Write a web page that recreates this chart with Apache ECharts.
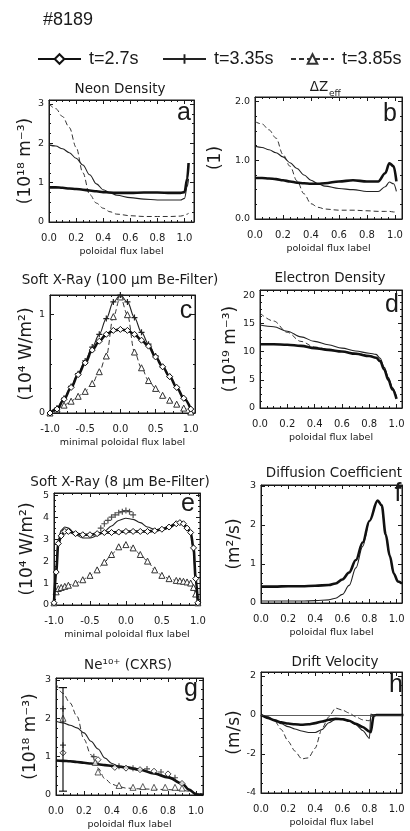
<!DOCTYPE html>
<html>
<head>
<meta charset="utf-8">
<script src="https://cdn.jsdelivr.net/npm/echarts@6/dist/echarts.min.js"></script>
<style>
  html, body { margin: 0; padding: 0; background: #fff; }
  #chart { width: 410px; height: 831px; }
</style>
</head>
<body>
<div id="chart"></div>
<script>
// ---- data (shot #8189) ----
const seriesNames = ['t=2.7s', 't=3.35s', 't=3.85s'];

// a: neon density
const aX    = [0, 0.05, 0.1, 0.15, 0.2, 0.25, 0.3, 0.35, 0.4, 0.45, 0.5, 0.6, 0.7, 0.8, 0.9, 0.97, 1.0, 1.02, 1.03];
const a27   = [0.88, 0.88, 0.87, 0.85, 0.84, 0.82, 0.8, 0.78, 0.76, 0.75, 0.74, 0.74, 0.75, 0.75, 0.74, 0.74, 0.76, 1.1, 1.5];
const a335  = [1.96, 1.93, 1.86, 1.76, 1.62, 1.45, 1.2, 0.97, 0.82, 0.74, 0.68, 0.62, 0.58, 0.56, 0.56, 0.56, 0.6, 0.9, 1.1];
const a385  = [3.0, 2.88, 2.68, 2.4, 1.9, 1.25, 0.7, 0.48, 0.35, 0.26, 0.2, 0.16, 0.14, 0.14, 0.14, 0.15, 0.17, 0.2, 0.22];

// b: delta Z_eff
const bX    = [0, 0.05, 0.1, 0.15, 0.2, 0.25, 0.3, 0.35, 0.4, 0.45, 0.5, 0.6, 0.7, 0.8, 0.88, 0.93, 0.96, 0.99, 1.01];
const b27   = [0.70, 0.70, 0.69, 0.68, 0.66, 0.64, 0.62, 0.61, 0.6, 0.6, 0.61, 0.64, 0.66, 0.64, 0.64, 0.78, 0.95, 0.9, 0.64];
const b335  = [1.24, 1.22, 1.18, 1.13, 1.06, 0.96, 0.86, 0.75, 0.66, 0.6, 0.56, 0.52, 0.5, 0.47, 0.47, 0.55, 0.63, 0.6, 0.47];
const b385  = [1.66, 1.62, 1.52, 1.38, 1.1, 0.9, 0.65, 0.43, 0.26, 0.2, 0.17, 0.15, 0.15, 0.14, 0.13, 0.13, 0.13, 0.12, 0.12];

// c: soft x-ray 100 um
const cX    = [-1.0, -0.9, -0.8, -0.7, -0.6, -0.5, -0.4, -0.3, -0.2, -0.1, 0, 0.1, 0.2, 0.3, 0.4, 0.5, 0.6, 0.7, 0.8, 0.9, 1.0];
const c27   = [0.0, 0.04, 0.14, 0.26, 0.39, 0.51, 0.64, 0.73, 0.8, 0.84, 0.85, 0.84, 0.8, 0.74, 0.68, 0.57, 0.47, 0.37, 0.26, 0.15, 0.04];
const c335  = [0.0, 0.05, 0.15, 0.27, 0.4, 0.53, 0.67, 0.8, 0.96, 1.13, 1.2, 1.13, 0.97, 0.82, 0.7, 0.58, 0.47, 0.37, 0.26, 0.15, 0.04];
const c385  = [0.0, 0.04, 0.08, 0.12, 0.17, 0.22, 0.3, 0.42, 0.58, 0.98, 1.18, 1.0, 0.62, 0.46, 0.33, 0.25, 0.18, 0.13, 0.09, 0.05, 0.01];

// d: electron density
const dX    = [0, 0.1, 0.2, 0.3, 0.4, 0.5, 0.6, 0.7, 0.8, 0.85, 0.88, 0.91, 0.94, 0.97, 1.0];
const d27   = [11.3, 11.3, 11.2, 11.0, 10.6, 10.3, 10.0, 9.6, 9.2, 8.9, 8.3, 6.8, 5.0, 3.3, 1.6];
const d335  = [14.7, 14.4, 13.6, 12.6, 11.8, 11.2, 10.6, 10.1, 9.7, 9.5, 8.8, 7.2, 5.4, 3.6, 1.9];
const d385  = [16.8, 15.4, 13.4, 11.8, 10.8, 10.4, 10.0, 9.7, 9.3, 9.0, 8.4, 6.9, 5.2, 3.4, 1.7];

// e: soft x-ray 8 um
const eX    = [-1.0, -0.97, -0.94, -0.9, -0.85, -0.8, -0.7, -0.6, -0.5, -0.4, -0.3, -0.2, -0.1, 0, 0.1, 0.2, 0.3, 0.4, 0.5, 0.6, 0.7, 0.75, 0.8, 0.85, 0.9, 0.94, 0.97, 1.0];
const e27   = [0.1, 1.5, 2.8, 3.15, 3.35, 3.35, 3.25, 3.2, 3.2, 3.25, 3.3, 3.3, 3.32, 3.35, 3.35, 3.35, 3.35, 3.38, 3.45, 3.55, 3.7, 3.75, 3.7, 3.5, 3.3, 2.6, 1.2, 0.1];
const e335  = [0.1, 1.8, 3.0, 3.4, 3.55, 3.5, 3.2, 3.05, 3.05, 3.15, 3.35, 3.6, 3.85, 3.95, 3.9, 3.75, 3.55, 3.45, 3.4, 3.5, 3.7, 3.8, 3.75, 3.55, 3.2, 2.4, 1.0, 0.1];
const e385  = [0.1, 0.6, 0.75, 0.8, 0.85, 0.9, 1.0, 1.15, 1.35, 1.6, 1.95, 2.3, 2.65, 2.75, 2.6, 2.3, 2.0, 1.6, 1.35, 1.2, 1.12, 1.1, 1.08, 1.05, 1.0, 0.8, 0.5, 0.1];
const ePlusX = [-0.35, -0.3, -0.25, -0.2, -0.15, -0.1, -0.05, 0.0, 0.05, 0.1];
const ePlusY = [3.5, 3.7, 3.85, 4.0, 4.1, 4.2, 4.25, 4.3, 4.25, 4.1];

// f: diffusion coefficient
const fX    = [0, 0.1, 0.2, 0.3, 0.4, 0.5, 0.55, 0.6, 0.65, 0.7, 0.75, 0.8, 0.86, 0.89, 0.92, 0.95, 0.98, 1.01, 1.04];
const f27   = [0.42, 0.42, 0.43, 0.43, 0.44, 0.46, 0.5, 0.6, 0.78, 1.1, 1.55, 2.1, 2.62, 2.5, 1.75, 1.2, 0.75, 0.55, 0.5];
const f335  = [0.05, 0.05, 0.05, 0.05, 0.06, 0.08, 0.12, 0.22, 0.45, 0.9, 1.45, 2.1, 2.62, 2.5, 1.75, 1.2, 0.75, 0.55, 0.5];

// g: Ne10+ from CXRS
const gX    = [0, 0.05, 0.1, 0.15, 0.2, 0.25, 0.3, 0.35, 0.4, 0.45, 0.5, 0.6, 0.7, 0.8, 0.9, 0.95, 1.0, 1.05];
const g27   = [0.9, 0.89, 0.88, 0.86, 0.84, 0.82, 0.8, 0.78, 0.76, 0.74, 0.72, 0.66, 0.56, 0.46, 0.3, 0.14, 0.02, 0.0];
const g335  = [1.92, 1.88, 1.82, 1.75, 1.62, 1.4, 1.2, 0.96, 0.82, 0.74, 0.7, 0.65, 0.58, 0.48, 0.3, 0.14, 0.02, 0.0];
const g385  = [2.9, 2.65, 2.4, 2.05, 1.45, 1.05, 0.7, 0.42, 0.28, 0.22, 0.18, 0.16, 0.15, 0.14, 0.12, 0.1, 0.05, 0.03];
const gDiaX  = [0.05, 0.3, 0.42, 0.5, 0.6, 0.7, 0.8, 0.9];
const gDiaY  = [1.1, 0.92, 0.72, 0.7, 0.66, 0.62, 0.55, 0.3];
const gPlusX = [0.05, 0.05, 0.27, 0.45, 0.55, 0.65, 0.75, 0.85];
const gPlusY = [1.3, 2.25, 1.0, 0.75, 0.7, 0.68, 0.6, 0.45];
const gTriX  = [0.05, 0.28, 0.3, 0.45, 0.55, 0.62, 0.7, 0.78, 0.85, 0.9];
const gTriY  = [2.0, 0.85, 0.6, 0.25, 0.2, 0.22, 0.2, 0.2, 0.2, 0.18];
const gErr   = [[0.05, 0.1, 2.8]];

// h: drift velocity
const hX    = [0, 0.05, 0.1, 0.15, 0.2, 0.25, 0.3, 0.35, 0.4, 0.45, 0.5, 0.55, 0.6, 0.65, 0.7, 0.75, 0.8, 0.81, 0.83, 0.85, 0.9, 1.0, 1.05];
const h27   = [0, -0.15, -0.28, -0.38, -0.44, -0.48, -0.5, -0.48, -0.42, -0.34, -0.25, -0.2, -0.22, -0.3, -0.45, -0.62, -0.85, -0.88, -0.05, 0, 0, 0, 0];
const h335  = [0, -0.1, -0.3, -0.45, -0.6, -0.72, -0.82, -0.9, -0.9, -0.75, -0.4, -0.22, -0.18, -0.3, -0.5, -0.8, -1.2, 0.05, 0, 0, 0, 0, 0];
const h385  = [0, -0.1, -0.3, -0.75, -1.35, -1.85, -2.25, -2.2, -1.7, -0.7, -0.1, 0.35, 0.25, 0.1, -0.1, -0.25, -0.3, -0.1, 0, 0, 0, 0, 0];

// ---- layout ----
const FONT = 'DejaVu Sans';
const INK = '#1a1a1a';
const PLUS = 'path://M4,0h2v4h4v2h-4v4h-2v-4h-4v-2h4z';
const pair = (xs, ys) => xs.map((x, i) => [x, ys[i]]);

// grid boxes in px and axis ranges
const panels = [
  { l: 49,  t: 100, w: 145, h: 122, x: [0, 1.07, 0.2],  y: [0, 3.1, 1],   yName: '(10¹⁸ m⁻³)', yGap: 15, yDec: 0, xName: 'poloidal flux label' },
  { l: 255, t: 97,  w: 147, h: 122, x: [0, 1.05, 0.2],  y: [0, 2.08, 1],  yName: '(1)',        yGap: 31, yDec: 1, xName: 'poloidal flux label' },
  { l: 50,  t: 295, w: 145, h: 118, x: [-1, 1.06, 0.5], y: [0, 1.2, 1],   yName: '(10⁴ W/m²)', yGap: 15, yDec: 0, xName: 'minimal poloidal flux label' },
  { l: 260, t: 290, w: 142, h: 118, x: [0, 1.04, 0.2],  y: [0, 20.9, 5],  yName: '(10¹⁹ m⁻³)', yGap: 19, yDec: 0, xName: 'poloidal flux label' },
  { l: 54,  t: 493, w: 146, h: 112, x: [-1, 1.03, 0.5], y: [0, 5.1, 1],   yName: '(10⁴ W/m²)', yGap: 18, yDec: 0, xName: 'minimal poloidal flux label' },
  { l: 261, t: 485, w: 141, h: 118, x: [0, 1.04, 0.2],  y: [0, 3.02, 1],  yName: '(m²/s)',     yGap: 18, yDec: 0, xName: 'poloidal flux label' },
  { l: 56,  t: 678, w: 147, h: 119, x: [0, 1.05, 0.2],  y: [0, 3.05, 1],  yName: '(10¹⁸ m⁻³)', yGap: 17, yDec: 0, xName: 'poloidal flux label' },
  { l: 261, t: 672, w: 141, h: 121, x: [0, 1.04, 0.2],  y: [-4, 2.2, 2],  yName: '(m/s)',      yGap: 18, yDec: 0, xName: 'poloidal flux label' }
];

const onStep = (v, step) => Math.abs(v / step - Math.round(v / step)) < 1e-6;

const grids = [], xAxes = [], yAxes = [];
panels.forEach((p) => {
  grids.push({ left: p.l, top: p.t, width: p.w, height: p.h, show: true, borderColor: INK, borderWidth: 1, backgroundColor: 'transparent' });
  const gi = grids.length - 1;
  const tick = { show: true, inside: true, length: 4, lineStyle: { color: INK } };
  const minor = { show: true, splitNumber: 4, length: 2, lineStyle: { color: INK } };
  xAxes.push({
    gridIndex: gi, type: 'value', min: p.x[0], max: p.x[1], interval: p.x[2],
    axisLine: { onZero: false, lineStyle: { color: INK } }, axisTick: tick, minorTick: minor, splitLine: { show: false },
    axisLabel: { margin: 11, fontSize: 10, fontFamily: FONT, color: INK, showMaxLabel: true,
      formatter: v => onStep(v, p.x[2]) && v <= 1.0001 ? v.toFixed(1) : '' },
    name: p.xName, nameLocation: 'middle', nameGap: 25, nameTextStyle: { fontSize: 9.5, fontFamily: FONT, color: INK }
  });
  xAxes.push({
    gridIndex: gi, type: 'value', position: 'top', min: p.x[0], max: p.x[1], interval: p.x[2],
    axisLine: { onZero: false, lineStyle: { color: INK } }, axisTick: tick, minorTick: minor, axisLabel: { show: false }, splitLine: { show: false }
  });
  yAxes.push({
    gridIndex: gi, type: 'value', min: p.y[0], max: p.y[1], interval: p.y[2],
    axisLine: { onZero: false, lineStyle: { color: INK } }, axisTick: tick, minorTick: minor, splitLine: { show: false },
    axisLabel: { margin: 5, fontSize: 9.5, fontFamily: FONT, color: INK,
      formatter: v => onStep(v, p.y[2]) ? v.toFixed(p.yDec) : '' },
    name: p.yName, nameLocation: 'middle', nameRotate: 90, nameGap: p.yGap,
    nameTextStyle: { fontSize: 17, fontFamily: FONT, color: INK }
  });
  yAxes.push({
    gridIndex: gi, type: 'value', position: 'right', min: p.y[0], max: p.y[1], interval: p.y[2],
    axisLine: { onZero: false, lineStyle: { color: INK } }, axisTick: tick, minorTick: minor, axisLabel: { show: false }, splitLine: { show: false }
  });
});

const styles = [
  { lineStyle: { color: '#111', width: 2.6 }, symbol: 'diamond', symbolSize: 6, itemStyle: { color: '#fff', borderColor: '#111', borderWidth: 1 } },
  { lineStyle: { color: '#222', width: 1.1 }, symbol: PLUS, symbolSize: 6, itemStyle: { color: '#222' } },
  { lineStyle: { color: '#333', width: 1, type: [5, 3] }, symbol: 'triangle', symbolSize: 6, itemStyle: { color: '#fff', borderColor: '#333', borderWidth: 1 } }
];

function line(gi, k, xs, ys, marks) {
  return Object.assign({
    type: 'line', name: seriesNames[k], xAxisIndex: gi * 2, yAxisIndex: gi * 2,
    data: pair(xs, ys), smooth: 0.35, smoothMonotone: 'x', showSymbol: !!marks,
    silent: true, animation: false, z: 3 - k
  }, JSON.parse(JSON.stringify(styles[k])));
}
function dots(gi, k, xs, ys) {
  return Object.assign({
    type: 'scatter', name: seriesNames[k], xAxisIndex: gi * 2, yAxisIndex: gi * 2,
    data: pair(xs, ys), silent: true, animation: false, z: 4
  }, { symbol: styles[k].symbol, symbolSize: 6, itemStyle: styles[k].itemStyle });
}

const series = [
  // legend carriers
  ...styles.map((s, k) => Object.assign({ type: 'line', name: seriesNames[k], data: [], xAxisIndex: 0, yAxisIndex: 0, showSymbol: true }, JSON.parse(JSON.stringify(s)), { symbolSize: 10 })),
  line(0, 0, aX, a27), line(0, 1, aX, a335), line(0, 2, aX, a385),
  line(1, 0, bX, b27), line(1, 1, bX, b335), line(1, 2, bX, b385),
  line(2, 0, cX, c27, true), line(2, 1, cX, c335, true), line(2, 2, cX, c385, true),
  line(3, 0, dX, d27), line(3, 1, dX, d335), line(3, 2, dX, d385),
  line(4, 0, eX, e27, true), line(4, 1, eX, e335), line(4, 2, eX, e385, true), dots(4, 1, ePlusX, ePlusY),
  line(5, 0, fX, f27), line(5, 1, fX, f335),
  line(6, 0, gX, g27), line(6, 1, gX, g335), line(6, 2, gX, g385),
  dots(6, 0, gDiaX, gDiaY), dots(6, 1, gPlusX, gPlusY), dots(6, 2, gTriX, gTriY),
  {
    type: 'custom', xAxisIndex: 12, yAxisIndex: 12, data: gErr, silent: true, animation: false, z: 5,
    encode: { x: 0, y: [1, 2] },
    renderItem: (params, api) => {
      const x = api.value(0);
      const lo = api.coord([x, api.value(1)]);
      const hi = api.coord([x, api.value(2)]);
      const st = { stroke: '#111', lineWidth: 1.2 };
      return { type: 'group', children: [
        { type: 'line', shape: { x1: lo[0], y1: lo[1], x2: hi[0], y2: hi[1] }, style: st },
        { type: 'line', shape: { x1: lo[0] - 4, y1: lo[1], x2: lo[0] + 4, y2: lo[1] }, style: st },
        { type: 'line', shape: { x1: hi[0] - 4, y1: hi[1], x2: hi[0] + 4, y2: hi[1] }, style: st }
      ] };
    }
  },
  Object.assign(line(7, 0, hX, h27), { smooth: 0.25 }),
  Object.assign(line(7, 1, hX, h335), { smooth: 0.25 }),
  Object.assign(line(7, 2, hX, h385), { smooth: 0.25,
    markLine: { silent: true, symbol: 'none', label: { show: false }, lineStyle: { color: '#333', width: 0.8, type: 'solid' }, data: [{ yAxis: 0 }] } })
];

const legendAt = [32, 157, 285];
const legend = seriesNames.map((n, k) => ({
  data: [n], left: legendAt[k], top: 45, itemWidth: 43, itemHeight: 12, selectedMode: false,
  textStyle: { fontSize: 18, fontFamily: 'Liberation Sans', color: INK, padding: [0, 0, 0, 3] }
}));

// titles and panel letters
const text = (x, y, s, size, font, align) => ({
  type: 'text', x, y, silent: true,
  style: { text: s, fontSize: size, fontFamily: font || FONT, fill: INK, textAlign: align || 'center', textVerticalAlign: 'middle' }
});
const titles = [
  text(43, 20, '#8189', 18, 'Liberation Sans', 'left'),
  text(120, 89, 'Neon Density', 13.5),
  text(319, 87, 'ΔZ', 13.5),
  text(329, 94, 'eff', 9, FONT, 'left'),
  text(120, 280, 'Soft X-Ray (100 μm Be-Filter)', 13.5),
  text(330, 278, 'Electron Density', 13.5),
  text(120, 482, 'Soft X-Ray (8 μm Be-Filter)', 13.5),
  text(334, 473, 'Diffusion Coefficient', 13.5),
  text(128, 665, 'Ne¹⁰⁺ (CXRS)', 13.5),
  text(335, 662, 'Drift Velocity', 13.5)
];
const letters = [['a', 184, 113], ['b', 390, 114], ['c', 186, 311], ['d', 392, 305], ['e', 188, 504], ['f', 398, 494], ['g', 191, 689], ['h', 396, 685]];
letters.forEach(([s, x, y]) => titles.push(text(x, y, s, 25, 'Liberation Sans')));

const chart = echarts.init(document.getElementById('chart'));
chart.setOption({
  backgroundColor: '#fff',
  animation: false,
  grid: grids,
  xAxis: xAxes,
  yAxis: yAxes,
  legend: legend,
  graphic: titles,
  series: series
});
</script>
</body>
</html>
